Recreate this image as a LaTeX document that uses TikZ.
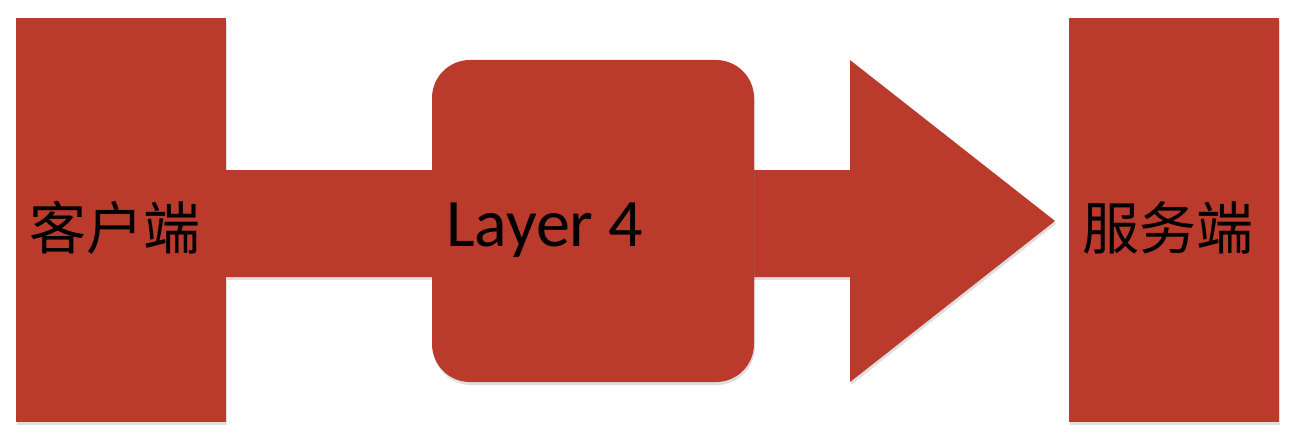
\documentclass[tikz,border=0pt]{standalone}
\usepackage{fontspec}
\setmainfont{Carlito}
\newfontfamily\cjk{Noto Sans CJK SC}
\usetikzlibrary{shadows}
\definecolor{feltred}{RGB}{186,58,44}
\tikzset{
  felt/.style={fill=feltred, draw=none, drop shadow={opacity=0.25, shadow xshift=1pt, shadow yshift=-3pt}},
  endbox/.style={felt, minimum width=210pt, minimum height=404pt, inner sep=0pt},
  midbox/.style={felt, minimum width=322pt, minimum height=322pt, rounded corners=38pt, inner sep=0pt},
  label/.style={text=black, inner sep=0pt}
}
\begin{document}
\begin{tikzpicture}[x=1pt,y=-1pt]
\useasboundingbox (0,0) rectangle (1294,444);
\node[endbox] (client) at (121,220) {};
\node[endbox] (server) at (1174,220) {};
% arrow
\coordinate (shafttop) at (client.east |- 0,170);
\coordinate (tip) at (1055,221);
\draw[felt] (shafttop) -- (850,170) -- (850,60) -- (tip) -- (850,382) -- (850,277) -- (client.east |- 0,277) -- cycle;
\node[midbox] (l4) at (593,221) {};
\node[label, font=\cjk\fontsize{57}{66}\selectfont] (clientlbl) at (115,228) {客户端};
\node[label, font=\cjk\fontsize{57}{66}\selectfont] (serverlbl) at (1168,228) {服务端};
\node[label, font=\fontsize{68}{78}\selectfont, anchor=base west] (l4lbl) at (446,246) {Layer 4};
\end{tikzpicture}
\end{document}
